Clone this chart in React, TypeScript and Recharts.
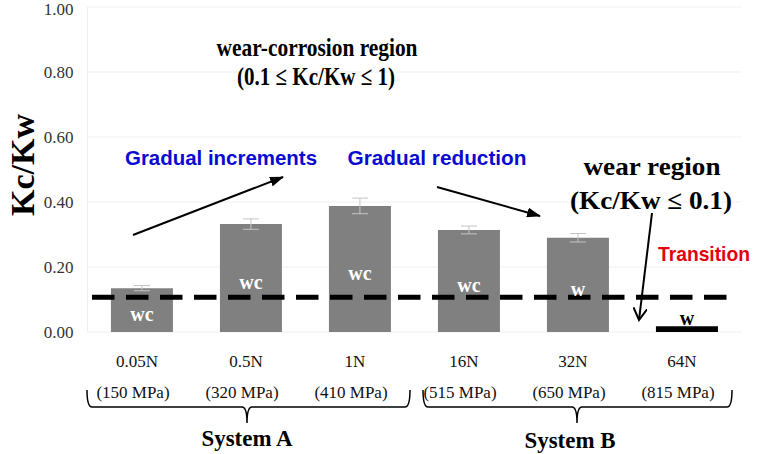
import {
	Bar,
	BarChart,
	CartesianGrid,
	Cell,
	Customized,
	ErrorBar,
	LabelList,
	ReferenceLine,
	XAxis,
	YAxis,
} from "recharts"

const loads = ["0.05N", "0.5N", "1N", "16N", "32N", "64N"]
const pressures = ["(150 MPa)", "(320 MPa)", "(410 MPa)", "(515 MPa)", "(650 MPa)", "(815 MPa)"]
const ratios = [0.135, 0.332, 0.388, 0.314, 0.29, 0.018]
const errors = [0.008, 0.016, 0.024, 0.012, 0.013, 0]
const regimes = ["wc", "wc", "wc", "wc", "w", "w"]
const yTicks = [0, 0.2, 0.4, 0.6, 0.8, 1]
const threshold = 0.107

const serif = "Liberation Serif"
const sans = "Liberation Sans"

const data = loads.map((load, i) => ({
	load,
	pressure: pressures[i],
	ratio: ratios[i],
	err: errors[i],
	regime: regimes[i],
}))

function LoadTick(props: any) {
	const { x, y, index } = props
	return (
		<g fontFamily={serif} fontSize={17} fill="#111">
			<text x={x - 5} y={y + 29} textAnchor="middle" dominantBaseline="central">
				{loads[index]}
			</text>
			<text x={x - 9} y={y + 60} textAnchor="middle" dominantBaseline="central">
				{pressures[index]}
			</text>
		</g>
	)
}

function RatioTick(props: any) {
	const { x, y, payload } = props
	return (
		<text
			x={x}
			y={y}
			fontFamily={serif}
			fontSize={17}
			fill="#333"
			textAnchor="end"
			dominantBaseline="central"
		>
			{Number(payload.value).toFixed(2)}
		</text>
	)
}

function RegimeLabel(props: any) {
	const { x, y, width, height, index, value } = props
	const cx = x + width / 2
	const last = index === ratios.length - 1
	return (
		<text
			x={cx}
			y={last ? y - 8 : y + height / 2 + 4}
			fill={last ? "#000" : "#fff"}
			fontFamily={serif}
			fontWeight="bold"
			fontSize={20}
			textAnchor="middle"
			dominantBaseline="central"
		>
			{value}
		</text>
	)
}

function DashedThreshold(props: any) {
	const { x1, y1, x2 } = props
	return (
		<line
			x1={x1 + 4.5}
			x2={x2 - 13}
			y1={y1}
			y2={y1}
			stroke="#000"
			strokeWidth={5}
			strokeDasharray="22.5 11.5"
		/>
	)
}

function Annotations() {
	return (
		<g>
			<defs>
				<marker id="solidHead" markerWidth="14" markerHeight="10" refX="13" refY="5" orient="auto" markerUnits="userSpaceOnUse">
					<path d="M0,0 L14,5 L0,10 z" fill="#000" />
				</marker>
				<marker id="openHead" markerWidth="14" markerHeight="14" refX="12" refY="7" orient="auto" markerUnits="userSpaceOnUse">
					<path d="M0,0 L12,7 L0,14" fill="none" stroke="#000" strokeWidth={2} />
				</marker>
			</defs>

			{/* region titles */}
			<g fontFamily={serif} fontWeight="bold" fontSize={26} fill="#000" textAnchor="middle" dominantBaseline="central">
				<text x={317} y={47} textLength={201} lengthAdjust="spacingAndGlyphs">wear-corrosion region</text>
				<text x={316} y={76} textLength={158} lengthAdjust="spacingAndGlyphs">(0.1 ≤ Kc/Kw ≤ 1)</text>
				<text x={652} y={166} textLength={137} lengthAdjust="spacingAndGlyphs">wear region</text>
				<text x={651} y={200} textLength={162} lengthAdjust="spacingAndGlyphs">(Kc/Kw ≤ 0.1)</text>
			</g>

			{/* trend notes */}
			<g fontFamily={sans} fontWeight="bold" fontSize={21} textAnchor="middle" dominantBaseline="central">
				<text x={221} y={157} fill="#0a0ad2" textLength={192} lengthAdjust="spacingAndGlyphs">Gradual increments</text>
				<text x={437} y={157} fill="#0a0ad2" textLength={179} lengthAdjust="spacingAndGlyphs">Gradual reduction</text>
				<text x={704} y={253} fill="#e3000f" textLength={92} lengthAdjust="spacingAndGlyphs">Transition</text>
			</g>

			<line x1={133} y1={235} x2={283} y2={177} stroke="#000" strokeWidth={2} markerEnd="url(#solidHead)" />
			<line x1={437} y1={187} x2={540} y2={216} stroke="#000" strokeWidth={2} markerEnd="url(#solidHead)" />
			<line x1={652} y1={213} x2={639} y2={320} stroke="#000" strokeWidth={2} markerEnd="url(#openHead)" />

			{/* system braces */}
			<g fill="none" stroke="#000" strokeWidth={1.5}>
				<path d="M87,390 Q87,407 92,407 L242,407 Q247,407 247,423 Q247,407 252,407 L405,407 Q410,407 410,390" />
				<path d="M423,390 Q423,407 428,407 L572,407 Q577,407 577,423 Q577,407 582,407 L727,407 Q732,407 732,390" />
			</g>
			<g fontFamily={serif} fontWeight="bold" fontSize={23} fill="#000" textAnchor="middle" dominantBaseline="central">
				<text x={247} y={438} textLength={91} lengthAdjust="spacingAndGlyphs">System A</text>
				<text x={570} y={440} textLength={91} lengthAdjust="spacingAndGlyphs">System B</text>
			</g>

			{/* axis title */}
			<text
				x={22}
				y={165}
				transform="rotate(-90 22 165)"
				fontFamily={serif}
				fontWeight="bold"
				fontSize={34}
				textAnchor="middle"
				dominantBaseline="central"
				fill="#000"
			>
				Kc/Kw
			</text>
		</g>
	)
}

export default function App() {
	return (
		<div style={{ position: "absolute", left: 0, top: 0, background: "#fff" }}>
			<BarChart
				width={758}
				height={454}
				data={data}
				margin={{ top: 7, right: 16.5, left: 0, bottom: 22 }}
				barCategoryGap="21.5%"
			>
				<CartesianGrid vertical={false} stroke="#efefef" />
				<XAxis
					dataKey="load"
					axisLine={false}
					tickLine={false}
					tickSize={0}
					tickMargin={0}
					interval={0}
					height={100}
					tick={<LoadTick />}
				/>
				<YAxis
					width={87.5}
					domain={[0, 1]}
					ticks={yTicks}
					axisLine={{ stroke: "#eeeeee" }}
					tickLine={false}
					tickSize={0}
					tickMargin={14}
					tick={<RatioTick />}
				/>
				<Bar dataKey="ratio" fill="#808080" isAnimationActive={false}>
					{data.map((d, i) => (
						<Cell key={d.load} fill={i === data.length - 1 ? "#000" : "#808080"} />
					))}
					<ErrorBar dataKey="err" width={8} stroke="#c4c4c4" strokeWidth={1} direction="y" />
					<LabelList dataKey="regime" content={<RegimeLabel />} />
				</Bar>
				<ReferenceLine y={threshold} shape={<DashedThreshold />} />
				<Customized component={<Annotations />} />
			</BarChart>
		</div>
	)
}
